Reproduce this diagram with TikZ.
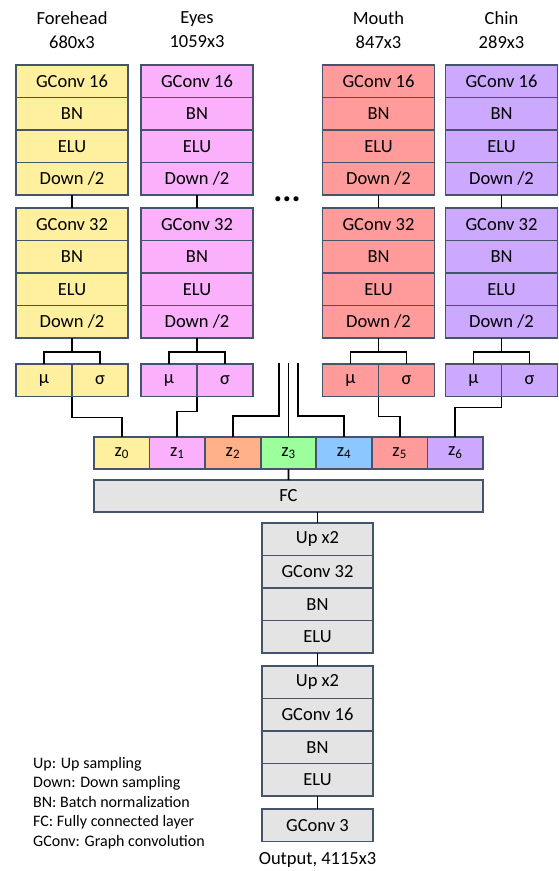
\documentclass[tikz,border=0pt]{standalone}
\usepackage{fontspec}
\setmainfont{Carlito}
\usetikzlibrary{positioning}
\definecolor{edgec}{HTML}{44546A}
\definecolor{cyel}{HTML}{FFF0A0}
\definecolor{cpink}{HTML}{FAB0FA}
\definecolor{csalm}{HTML}{FF9B9B}
\definecolor{cpurp}{HTML}{CCA8FF}
\definecolor{corange}{HTML}{FFB088}
\definecolor{cgreen}{HTML}{9CFF9C}
\definecolor{cblue}{HTML}{8CC8FF}
\definecolor{cgray}{HTML}{E4E4E4}
\begin{document}
\begin{tikzpicture}[font=\fontsize{18.5}{24}\selectfont,
                layer/.style={draw=edgec, line width=1.6pt, minimum width=112pt, minimum height=32.5pt, inner sep=0pt, outer sep=0pt},
                half/.style={layer, minimum width=56pt},
                zcell/.style={layer, minimum width=55.57pt, minimum height=32pt},
                link/.style={draw, line width=1.8pt}
            ]
            \useasboundingbox (0,0) rectangle (558pt,-871pt);
            % latent code
            \node[zcell, fill=cyel, anchor=north west](z0) at (94pt,-437pt){z\textsubscript{0}};
            \node[zcell, fill=cpink, right=0pt of z0](z1){z\textsubscript{1}};
            \node[zcell, fill=corange, right=0pt of z1](z2){z\textsubscript{2}};
            \node[zcell, fill=cgreen, right=0pt of z2](z3){z\textsubscript{3}};
            \node[zcell, fill=cblue, right=0pt of z3](z4){z\textsubscript{4}};
            \node[zcell, fill=csalm, right=0pt of z4](z5){z\textsubscript{5}};
            \node[zcell, fill=cpurp, right=0pt of z5](z6){z\textsubscript{6}};
            % encoders
            \foreach \n/\cx/\fc/\title/\size/\zc/\dy in {fh/72/cyel/Forehead/680x3/z0/21, ey/197/cpink/Eyes/1059x3/z1/15, mo/378.5/csalm/Mouth/847x3/z5/20, ch/501.5/cpurp/Chin/289x3/z6/11}{
                \node[align=center](\n-t) at (\cx pt,-30pt){\title\\\size};
                \node[layer, fill=\fc, anchor=north](\n-g1) at (\cx pt,-65pt){GConv 16};
                \node[layer, fill=\fc, below=0pt of \n-g1](\n-b1){BN};
                \node[layer, fill=\fc, below=0pt of \n-b1](\n-e1){ELU};
                \node[layer, fill=\fc, below=0pt of \n-e1](\n-d1){Down /2};
                \node[layer, fill=\fc, below=13pt of \n-d1](\n-g2){GConv 32};
                \node[layer, fill=\fc, below=0pt of \n-g2](\n-b2){BN};
                \node[layer, fill=\fc, below=0pt of \n-b2](\n-e2){ELU};
                \node[layer, fill=\fc, below=0pt of \n-e2](\n-d2){Down /2};
                \node[half, fill=\fc, anchor=north east](\n-mu) at ([yshift=-26pt]\n-d2.south){μ};
                \node[half, fill=\fc, right=0pt of \n-mu](\n-sig){σ};
                \path[link] (\n-d1) -- (\n-g2);
                \path[link] (\n-d2.south) -- ++(0,-14pt) coordinate(\n-fork);
                \path[link] (\n-mu.north) |- (\n-fork) -| (\n-sig.north);
                \path[link] (\n-mu.south east) -- ++(0,-\dy pt) -| (\zc.north);
            }
            \node(dots) at (287pt,-199pt){\fontsize{34}{34}\selectfont\bfseries ...};
            % other parts
            \coordinate(m1) at (279pt,-363pt);
            \coordinate(m2) at (z3.north |- m1);
            \coordinate(m3) at (298pt,-363pt);
            \path[link] (m1) -- ++(0,-53pt) -| (z2.north);
            \path[link] (m2) -- (z3.north);
            \path[link] (m3) -- ++(0,-53pt) -| (z4.north);
            % decoder
            \node[layer, fill=cgray, minimum width=389pt, minimum height=32pt, anchor=north](fc) at (288.5pt,-480pt){FC};
            \node[layer, fill=cgray, minimum width=111pt, anchor=north](u1) at (317.5pt,-523pt){Up x2};
            \node[layer, fill=cgray, minimum width=111pt, below=0pt of u1](g32){GConv 32};
            \node[layer, fill=cgray, minimum width=111pt, below=0pt of g32](bn1){BN};
            \node[layer, fill=cgray, minimum width=111pt, below=0pt of bn1](elu1){ELU};
            \node[layer, fill=cgray, minimum width=111pt, below=13pt of elu1](u2){Up x2};
            \node[layer, fill=cgray, minimum width=111pt, below=0pt of u2](g16){GConv 16};
            \node[layer, fill=cgray, minimum width=111pt, below=0pt of g16](bn2){BN};
            \node[layer, fill=cgray, minimum width=111pt, below=0pt of bn2](elu2){ELU};
            \node[layer, fill=cgray, minimum width=111pt, below=13pt of elu2](g3){GConv 3};
            \node(out) at (317.5pt,-860pt){Output, 4115x3};
            \path[link] (z3) -- (fc);
            \path[link] (fc.south -| u1.north) -- (u1);
            \path[link] (elu1) -- (u2);
            \path[link] (elu2) -- (g3);
            % legend
            \node[anchor=north west, align=left, inner sep=0pt, font=\fontsize{16}{19.5}\selectfont](legend) at (33pt,-757pt){Up: Up sampling\\Down: Down sampling\\BN: Batch normalization\\FC: Fully connected layer\\GConv: Graph convolution};
        \end{tikzpicture}
\end{document}
